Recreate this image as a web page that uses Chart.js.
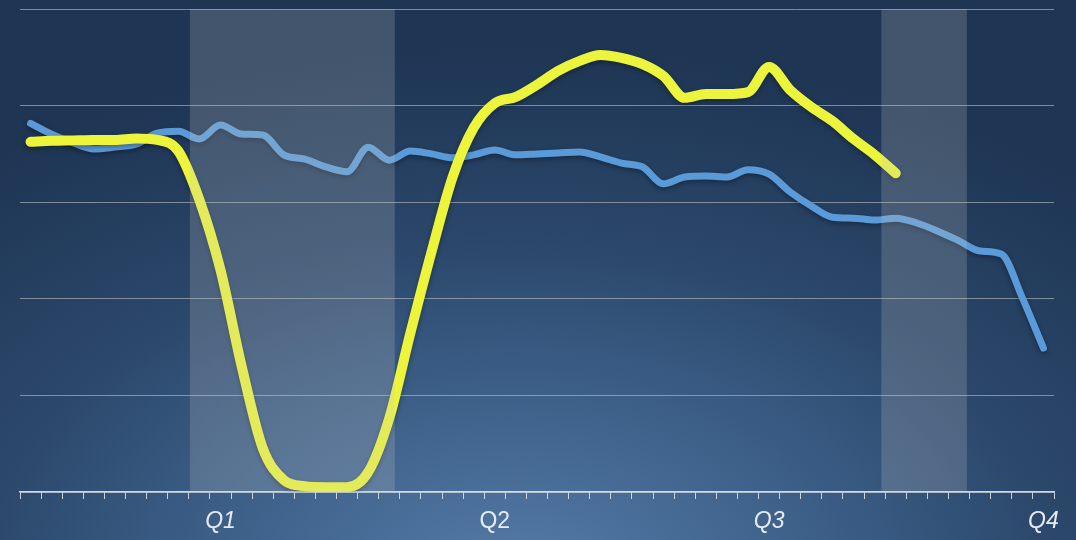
<!DOCTYPE html>
<html>
<head>
<meta charset="utf-8">
<script src="https://cdn.jsdelivr.net/npm/chart.js@4.4.1/dist/chart.umd.min.js"></script>
<style>
  html, body { margin: 0; padding: 0; }
  #wrap {
    width: 1076px; height: 540px; position: relative;
    background: radial-gradient(ellipse 80% 100% at 48% 108%, #557ca8 0%, #3d6089 35%, #2a4669 65%, #1e3553 100%);
  }
</style>
</head>
<body>
<div id="wrap"><canvas id="chart"></canvas></div>
<script>
// weeks on the x axis (data sits in the middle of each week)
const weeks = [0.5,1.5,2.5,3.5,4.5,5.5,6.5,7.5,8.5,9.5,10.5,11.5,12.5,13.5,14.5,15.5,16.5,17.5,18.5,19.5,
  20.5,21.5,22.5,23.5,24.5,25.5,26.5,27.5,28.5,29.5,30.5,31.5,32.5,33.5,34.5,35.5,36.5,37.5,38.5,39.5,
  40.5,41.5,42.5,43.5,44.5,45.5,46.5,47.5,48.5];

const blueValues = [76.3,74.1,72.3,71.0,71.4,72.0,74.3,74.7,73.1,76.0,74.1,73.9,69.8,68.9,67.3,66.3,71.4,68.7,70.6,70.0,
  69.2,69.8,70.8,69.8,70.0,70.2,70.4,69.4,68.1,67.3,63.8,65.2,65.4,65.2,66.7,65.8,62.1,59.2,56.9,56.7,
  56.3,56.7,55.7,54.0,52.0,49.9,49.3,40.2,29.8];

const yellowValues = [72.5,72.7,72.8,72.9,72.9,73.2,72.9,70.6,60.5,46.0,26.1,9.1,2.5,1.2,1.0,1.0,4.1,15.3,32.9,49.7,
  65.2,75.4,80.5,81.8,84.3,87.2,89.2,90.5,89.9,88.6,86.1,81.6,82.4,82.4,82.8,88.0,83.2,79.7,76.8,73.1,
  69.8,66.0];

const quarterLabels = ['Q1', 'Q2', 'Q3', 'Q4'];
const quarterPos = [9.5, 22.5, 35.5, 48.5];
const uprightLabels = ['Q2'];

// shaded periods [start, end] in weeks
const bands = [[8.05, 17.76], [40.82, 44.87]];

const toPoints = (vals) => vals.map((v, i) => ({ x: weeks[i], y: v }));

const quarterAt = (value) => {
    const idx = quarterPos.findIndex(p => Math.abs(p - value) < 0.01);
    return idx >= 0 ? quarterLabels[idx] : '';
};

// shaded bands sit on top of the lines, like a veil
const bandPlugin = {
    id: 'bands',
    afterDatasetsDraw(chart) {
        const { ctx, chartArea, scales } = chart;
        ctx.save();
        ctx.fillStyle = 'rgba(200,200,200,0.22)';
        bands.forEach(([a, b]) => {
            const x1 = scales.x.getPixelForValue(a);
            const x2 = scales.x.getPixelForValue(b);
            ctx.fillRect(x1, chartArea.top, x2 - x1, chartArea.bottom - chartArea.top);
        });
        ctx.restore();
    }
};

const shadowPlugin = {
    id: 'lineShadow',
    beforeDatasetDraw(chart) {
        const ctx = chart.ctx;
        ctx.save();
        ctx.shadowColor = 'rgba(0,0,0,0.35)';
        ctx.shadowBlur = 5;
        ctx.shadowOffsetY = 2;
    },
    afterDatasetDraw(chart) {
        chart.ctx.restore();
    }
};

const tickList = [];
for (let i = 0; i <= 49; i++) tickList.push(i);
quarterPos.forEach(p => tickList.push(p));
tickList.sort((a, b) => a - b);

new Chart(document.getElementById('chart'), {
    type: 'line',
    data: {
        datasets: [
            {
                label: 'Yellow',
                data: toPoints(yellowValues),
                borderColor: '#ecf53c',
                borderWidth: 10,
                borderCapStyle: 'round',
                borderJoinStyle: 'round',
                pointRadius: 0,
                cubicInterpolationMode: 'monotone'
            },
            {
                label: 'Blue',
                data: toPoints(blueValues),
                borderColor: '#5a9ad8',
                borderWidth: 7,
                borderCapStyle: 'round',
                borderJoinStyle: 'round',
                pointRadius: 0,
                cubicInterpolationMode: 'monotone'
            }
        ]
    },
    options: {
        responsive: true,
        maintainAspectRatio: false,
        animation: false,
        layout: { padding: { left: 20, right: 22, top: 9, bottom: 0 } },
        plugins: { legend: { display: false }, tooltip: { enabled: false } },
        scales: {
            x: {
                type: 'linear',
                min: 0,
                max: 49,
                afterBuildTicks: (scale) => { scale.ticks = tickList.map(v => ({ value: v })); },
                afterFit: (scale) => { scale.height = 48; },
                border: { display: true, color: 'rgba(225,232,240,0.9)', width: 1.5 },
                grid: {
                    drawOnChartArea: false,
                    drawTicks: true,
                    tickLength: 7,
                    tickWidth: 1,
                    tickColor: (ctx) => Number.isInteger(ctx.tick.value) ? 'rgba(225,232,240,0.85)' : 'rgba(0,0,0,0)'
                },
                ticks: {
                    autoSkip: false,
                    maxRotation: 0,
                    padding: 9,
                    color: '#e6ebf1',
                    font: (ctx) => ({
                        family: 'Liberation Sans, Arial, sans-serif',
                        size: 23,
                        style: ctx.tick && uprightLabels.includes(quarterAt(ctx.tick.value)) ? 'normal' : 'italic'
                    }),
                    callback: (value) => quarterAt(value)
                }
            },
            y: {
                min: 0,
                max: 100,
                ticks: { display: false, stepSize: 20 },
                border: { display: false },
                grid: { color: 'rgba(200,205,210,0.55)', lineWidth: 1, drawTicks: false }
            }
        }
    },
    plugins: [bandPlugin, shadowPlugin]
});
</script>
</body>
</html>
